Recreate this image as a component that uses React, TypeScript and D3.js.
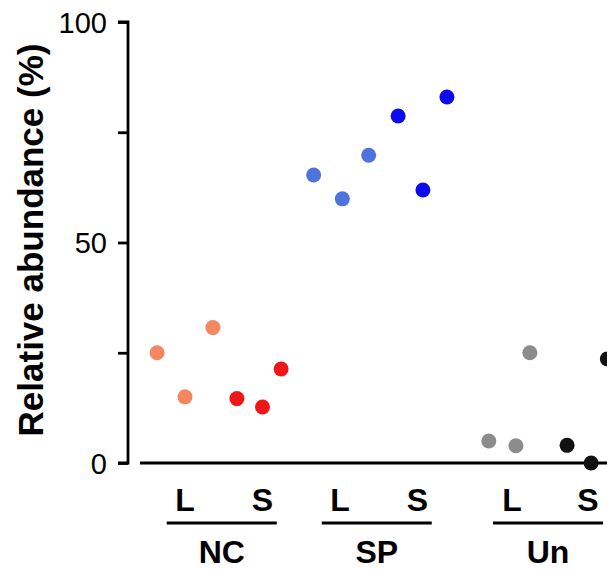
import { useEffect, useRef } from "react";
import * as d3 from "d3";

// Categories
const groups = ["NC", "SP", "Un"];
const subgroups = ["L", "S"];
// Slot position of each group/subgroup on the x axis (category units)
const slots = [
  [1, 2],
  [3, 4],
  [5.22, 6.2],
];

// Values (%) per group, per subgroup, with horizontal jitter (slot units)
const values = [
  [
    [25.0, 15.0, 30.7],
    [14.6, 12.7, 21.3],
  ],
  [
    [65.3, 59.9, 69.8],
    [78.7, 61.9, 83.0],
  ],
  [
    [5.0, 3.9, 25.0],
    [4.0, 0.0, 23.6],
  ],
];
const jitter = [
  [
    [-0.36, 0.0, 0.36],
    [-0.33, 0.0, 0.24],
  ],
  [
    [-0.34, 0.03, 0.37],
    [-0.25, 0.07, 0.38],
  ],
  [
    [-0.3, 0.05, 0.23],
    [-0.27, 0.04, 0.25],
  ],
];
const colors = [
  ["#F4875F", "#EE1616"],
  ["#4D73DC", "#0B0BEE"],
  ["#8C8C8C", "#111111"],
];

const yTicks = [0, 25, 50, 75, 100];
const yLabelTicks = [0, 50, 100];

const FONT = "'Liberation Sans', Arial, sans-serif";

export default function App() {
  const ref = useRef<SVGSVGElement>(null);

  useEffect(() => {
    if (!ref.current) return;
    const width = 607;
    const height = 572;
    const svg = d3.select(ref.current);
    svg.selectAll("*").remove();
    svg.attr("width", width).attr("height", height);

    const y = d3.scaleLinear().domain([0, 100]).range([463, 22]);
    const x = d3.scaleLinear().domain([1, 2]).range([185, 262.5]);

    // Y axis
    svg.append("g")
      .attr("transform", "translate(128,0)")
      .call(
        d3.axisLeft(y)
          .tickValues(yTicks)
          .tickSize(10)
          .tickPadding(11)
          .tickFormat((d) => (yLabelTicks.includes(d as number) ? String(d) : ""))
      )
      .call((g) => {
        g.select(".domain").attr("stroke", "#000").attr("stroke-width", 2.8).attr("d", `M-10,${y(100)}H0V${y(0)}H-10`);
        g.selectAll(".tick line").attr("stroke", "#000").attr("stroke-width", 2.8);
        g.selectAll(".tick text")
          .attr("fill", "#000")
          .attr("font-family", FONT)
          .attr("font-size", "29px")
          .attr("dy", "0.35em");
      });

    // X baseline
    svg.append("line")
      .attr("x1", 140)
      .attr("x2", width)
      .attr("y1", y(0))
      .attr("y2", y(0))
      .attr("stroke", "#000")
      .attr("stroke-width", 2.8);

    // Y title
    svg.append("text")
      .attr("transform", `translate(43,240) rotate(-90)`)
      .attr("text-anchor", "middle")
      .attr("font-family", FONT)
      .attr("font-weight", "bold")
      .attr("font-size", "35px")
      .attr("fill", "#000")
      .text("Relative abundance (%)");

    // Category labels
    groups.forEach((gName, gi) => {
      subgroups.forEach((s, si) => {
        svg.append("text")
          .attr("x", x(slots[gi][si]))
          .attr("y", 511)
          .attr("text-anchor", "middle")
          .attr("font-family", FONT)
          .attr("font-weight", "bold")
          .attr("font-size", "32px")
          .attr("fill", "#000")
          .text(s);
      });
      const cx = (x(slots[gi][0]) + x(slots[gi][1])) / 2 - 2;
      svg.append("line")
        .attr("x1", cx - 55)
        .attr("x2", cx + 55)
        .attr("y1", 523)
        .attr("y2", 523)
        .attr("stroke", "#000")
        .attr("stroke-width", 3);
      svg.append("text")
        .attr("x", cx)
        .attr("y", 563)
        .attr("text-anchor", "middle")
        .attr("font-family", FONT)
        .attr("font-weight", "bold")
        .attr("font-size", "32px")
        .attr("fill", "#000")
        .text(gName);
    });

    // Points
    groups.forEach((_, gi) => {
      subgroups.forEach((_, si) => {
        values[gi][si].forEach((v, pi) => {
          svg.append("circle")
            .attr("cx", x(slots[gi][si] + jitter[gi][si][pi]))
            .attr("cy", y(v))
            .attr("r", 7.5)
            .attr("fill", colors[gi][si]);
        });
      });
    });
  }, []);

  return (
    <div style={{ position: "absolute", left: 0, top: 0, background: "#fff" }}>
      <svg ref={ref} style={{ display: "block" }} />
    </div>
  );
}
